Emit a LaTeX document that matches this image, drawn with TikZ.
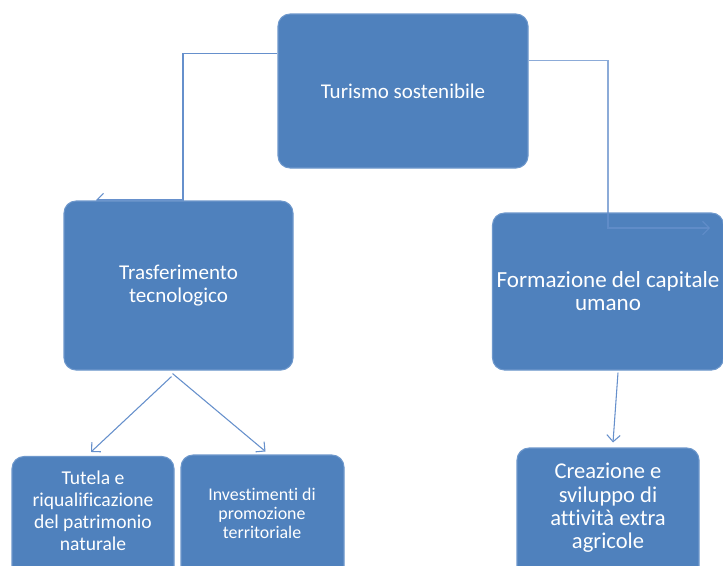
\documentclass[tikz,border=0pt]{standalone}
\usepackage{fontspec}
\setmainfont{Carlito}[Ligatures=NoCommon]
\usetikzlibrary{arrows.meta,calc}
\definecolor{boxblue}{HTML}{4F81BD}
\definecolor{boxedge}{HTML}{6E98CC}
\definecolor{linkblue}{HTML}{6690CC}
\begin{document}
\begin{tikzpicture}[x=0.75pt,y=-0.75pt,
  box/.style={draw=boxedge, fill=boxblue, line width=0.8pt, rounded corners=9pt, inner sep=0pt, text=white, align=center},
  txt/.style={text=white, align=center, inner sep=0pt},
  link/.style={draw=linkblue, line width=0.8pt},
  arrowlink/.style={link, -{Straight Barb[length=5pt,width=10pt]}}]
\useasboundingbox (0,0) rectangle (723,565);
\clip (0,0) rectangle (723,565);
\fill[white] (0,0) rectangle (723,565);

% top node
\node[box, minimum width=187.5pt, minimum height=115.5pt,
      font=\fontsize{15.75pt}{18pt}\selectfont] (top) at (403,91) {Turismo sostenibile};

% left connector (drawn below the box it enters)
\coordinate (ls) at ($(top.north west)+(0,40)$);
\coordinate (lk) at (183,200);
\coordinate (le) at (96,200);
\draw[arrowlink] (ls) -| (lk) -- (le);

\node[box, minimum width=171.75pt, minimum height=126.75pt,
      font=\fontsize{15.8pt}{17.25pt}\selectfont] (tras) at (178.5,285.5) {Trasferimento\\tecnologico};

\node[box, minimum width=173.25pt, minimum height=117.75pt,
      font=\fontsize{17.3pt}{17.25pt}\selectfont] (form) at (608,291.5) {Formazione del capitale\\umano};

% right connector (drawn over the box it enters)
\coordinate (rs) at ($(top.north east)+(0,47)$);
\coordinate (rk) at (608,228);
\coordinate (re) at (710,228);
\draw[arrowlink, draw opacity=0.75] (rs) -| (rk) -- (re);

% bottom boxes (cut by the lower edge)
\node[box, minimum width=121.5pt, minimum height=92.25pt] (tut) at (93,518) {};
\node[box, minimum width=122.25pt, minimum height=93.75pt] (inv) at (262.5,517.5) {};
\node[box, minimum width=136.5pt, minimum height=99.75pt] (cre) at (608,514.5) {};

\node[txt, font=\fontsize{14.7pt}{16.5pt}\selectfont] (tutT) at (93,511) {Tutela e\\riqualificazione\\del patrimonio\\naturale};
\node[txt, font=\fontsize{13.4pt}{14.25pt}\selectfont] (invT) at (262,513) {Investimenti di\\promozione\\territoriale};
\node[txt, font=\fontsize{16.9pt}{17.5pt}\selectfont] (creT) at (608,508) {Creazione e\\sviluppo di\\attività extra\\agricole};

% lower connectors
\draw[arrowlink] ($(tras.south)+(-7,6)$) -- ($(tut.north)+(-2,-4)$);
\draw[arrowlink] ($(tras.south)+(-6,3)$) -- ($(inv.north)+(3,-3)$);
\draw[arrowlink] ($(form.south)+(10,2)$) -- ($(cre.north)+(5,-5)$);
\end{tikzpicture}
\end{document}
